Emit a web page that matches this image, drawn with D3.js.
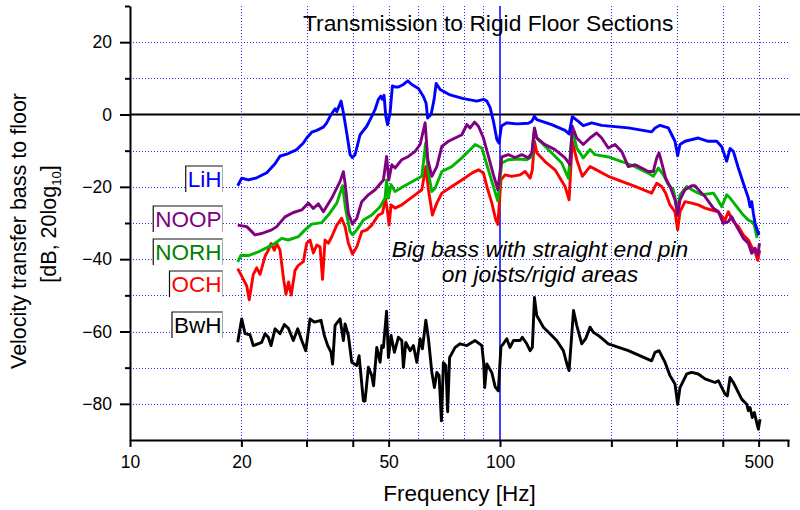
<!DOCTYPE html>
<html>
<head>
<meta charset="utf-8">
<script src="https://cdn.jsdelivr.net/npm/d3@7"></script>
<style>
body { margin: 0; background: #fff; }
svg { font-family: "Liberation Sans", Arial, sans-serif; }
</style>
</head>
<body>
<svg id="chart" width="800" height="510"></svg>
<script>
// measured curves, frequency in Hz and level in dB
var lihFreq = [19.55,20.04,20.89,22.0,23.42,24.66,25.44,26.79,28.23,29.41,30.03,30.99,31.97,33.31,34.02,34.73,35.45,35.83,36.21,37.19,37.73,38.53,39.33,39.9,40.58,41.86,43.64,45.02,45.96,46.92,47.62,48.09,48.6,49.13,49.68,50.46,51.19,52.05,53.13,54.82,56.34,57.76,60.19,62.08,63.14,63.73,65.13,66.36,67.2,68.89,73.31,79.65,86.57,90.21,92.14,94.05,96.0,98.06,99.38,100.9,104.3,111.0,119.3,121.9,123.9,125.7,137.9,149.9,153.7,156.8,162.8,167.9,177.0,188.3,222.2,257.0,262.4,270.7,285.0,291.1,297.1,302.1,306.5,316.2,343.5,365.6,385.2,397.4,409.9,418.5,427.2,440.7,454.6,469.0,473.9,478.9,483.8,488.9,494.1,501.2];
var lihDb = [-19.7,-17.6,-18.1,-17.5,-16.1,-13.6,-11.5,-10.8,-9.7,-7.9,-6.5,-4.9,-4.4,-3.5,-2.3,-0.5,0.9,1.6,0.8,3.7,0.5,-5.1,-11.1,-11.9,-11.1,-5.6,-3.25,-0.5,1.4,4.2,5.1,4.2,5.3,-0.5,-2.8,0.5,7.9,7.6,7.6,8.3,9.3,8.3,7.2,5.0,3.1,-1.0,0,4.2,8.6,6.9,5.4,4.4,3.7,4.2,3.7,1.9,-1.9,-6.9,-7.9,-3.2,-2.3,-2.6,-2.4,-1.9,-0.5,-1.4,-2.8,-4.4,-5.4,-0.6,-1.9,-3.1,-2.3,-3.0,-3.7,-4.8,-3.75,-3.0,-3.7,-5.6,-7.4,-11.4,-8.3,-7.4,-6.5,-7.4,-7.4,-8.9,-12.9,-9.4,-10.2,-14.8,-19.0,-23.1,-25.5,-24.1,-27.3,-30.1,-31.5,-33.3];

var noopFreq = [19.55,20.68,21.77,22.7,24.15,24.92,26.24,27.63,29.12,30.34,31.3,32.29,33.31,35.1,36.96,37.73,38.13,38.92,39.9,41.01,42.3,44.08,45.96,48.4,49.37,50.05,51.0,52.05,54.27,56.55,58.96,60.82,62.75,63.81,65.42,67.49,69.62,72.55,75.63,78.86,81.34,83.04,85.32,87.44,90.21,93.07,96.0,98.67,101.1,105.3,109.8,114.5,119.3,121.9,123.9,125.7,132.3,140.8,149.9,154.6,156.8,161.2,167.9,175.1,182.5,188.3,196.2,204.6,213.2,222.2,231.7,241.5,251.6,259.6,265.2,269.0,273.6,280.4,288.0,297.1,302.1,306.5,316.2,329.7,336.5,347.2,358.2,377.2,389.1,401.4,414.0,422.9,436.3,454.6,469.0,478.9,488.9,497.2,502.8];
var noopDb = [-30.6,-31.0,-33.3,-32.9,-31.9,-31.0,-28.3,-27.1,-26.4,-24.5,-26.0,-24.7,-26.9,-23.1,-18.5,-15.8,-19.0,-27.3,-30.3,-28.7,-24.1,-22.2,-20.8,-18.1,-11.6,-18.1,-13.9,-14.8,-12.5,-11.6,-10.2,-8.3,-2.3,-12.5,-17.1,-14.4,-8.8,-7.4,-6.5,-5.6,-2.8,-3.7,-2.1,-3.25,-6.5,-11.6,-16.7,-20.8,-11.7,-11.1,-11.9,-11.1,-12.0,-10.6,-3.7,-6.5,-8.3,-9.7,-12.0,-13.9,-3.25,-6.5,-8.3,-6.5,-5.1,-6.5,-9.25,-8.3,-10.2,-14.4,-13.9,-14.8,-15.75,-15.75,-12.0,-10.6,-13.4,-17.6,-19.9,-23.6,-27.8,-23.6,-20.8,-19.7,-19.7,-21.3,-22.7,-25.9,-26.9,-30.1,-29.6,-28.25,-31.0,-34.25,-35.6,-38.4,-37.0,-38.9,-35.6];

var norhFreq = [19.55,19.95,20.89,22.22,23.65,24.66,25.71,26.79,28.51,29.72,30.99,32.98,34.36,36.21,37.54,38.3,39.33,39.95,41.01,42.73,45.02,47.41,48.91,49.37,49.93,50.77,52.05,54.82,58.96,61.47,62.95,64.06,65.42,66.78,69.62,74.09,78.86,83.92,85.66,89.31,92.14,95.05,98.6,101.1,105.3,112.1,118.1,121.9,123.9,125.7,135.1,146.8,153.0,156.8,161.2,167.9,175.1,180.6,196.2,213.2,231.7,251.6,259.6,267.9,276.3,285.0,294.0,302.1,306.5,319.6,336.5,350.9,377.2,385.2,397.4,409.9,418.5,436.3,454.6,469.0,478.9,486.9,494.1,501.2];
var norhDb = [-40.75,-38.9,-39.0,-38.0,-36.6,-35.6,-34.25,-34.7,-33.8,-31.9,-30.3,-29.9,-27.8,-24.5,-19.7,-26.4,-32.4,-33.3,-31.9,-29.2,-27.8,-25.5,-23.1,-18.1,-23.1,-19.4,-21.3,-19.9,-18.1,-17.1,-7.9,-16.2,-21.3,-20.4,-15.75,-14.4,-12.0,-9.25,-8.3,-9.25,-13.9,-18.5,-23.9,-13.4,-12.5,-12.3,-12.5,-11.6,-4.2,-6.5,-9.7,-13.4,-17.6,-4.2,-9.25,-12.0,-9.7,-11.1,-11.75,-13.0,-14.4,-16.2,-17.1,-14.8,-16.7,-19.4,-20.8,-26.4,-22.2,-19.9,-21.3,-22.2,-21.75,-23.1,-25.5,-22.2,-23.1,-25.5,-27.8,-29.2,-29.6,-30.6,-33.8,-32.4];

var ochFreq = [19.55,20.04,20.68,21.0,21.54,22.0,22.46,23.17,23.65,24.05,24.55,24.92,25.44,25.71,26.03,26.4,26.82,27.27,27.93,28.51,29.41,30.03,30.66,31.3,31.97,32.63,33.14,33.66,34.36,35.1,36.21,37.31,38.13,38.92,39.95,41.01,42.3,43.64,45.02,46.92,48.09,49.06,49.73,50.14,50.77,52.05,54.27,56.55,58.96,61.47,63.03,64.06,65.66,67.49,69.62,74.09,78.86,83.92,87.44,90.21,92.14,95.05,97.46,98.67,100.6,103.2,107.5,113.3,116.9,120.6,122.3,123.9,125.7,132.3,140.8,149.9,153.7,156.8,161.2,166.9,175.1,180.6,196.2,213.2,231.7,257.0,265.2,273.6,280.4,288.0,297.1,302.1,306.5,316.2,329.7,343.5,358.2,373.4,389.1,405.6,414.0,427.2,440.7,454.6,469.0,478.9,488.9,497.2,503.5];
var ochDb = [-42.6,-44.7,-47.4,-51.25,-44.2,-42.4,-44.2,-39.2,-37.5,-35.7,-37.5,-35.7,-37.5,-41.4,-45.8,-49.7,-46.3,-49.9,-43.1,-41.7,-40.7,-35.6,-34.7,-38.3,-36.1,-36.6,-45.6,-34.7,-35.6,-33.8,-30.6,-28.7,-31.0,-35.6,-38.6,-36.6,-32.4,-31.9,-30.6,-27.8,-27.3,-23.3,-27.3,-30.6,-25.0,-25.9,-25.0,-23.6,-22.2,-20.8,-14.4,-20.8,-27.8,-24.5,-21.75,-19.9,-18.1,-16.2,-15.3,-16.2,-19.9,-24.5,-29.2,-30.4,-18.1,-16.7,-17.1,-16.7,-15.75,-17.6,-15.3,-7.4,-10.6,-13.0,-15.3,-19.9,-23.6,-7.4,-12.5,-17.1,-14.4,-15.1,-17.1,-18.5,-19.9,-21.75,-19.0,-19.9,-21.75,-25.0,-26.9,-31.9,-26.9,-24.1,-24.5,-25.0,-25.9,-26.4,-26.9,-29.2,-26.9,-29.6,-31.0,-33.3,-34.7,-36.6,-38.0,-40.3,-37.5];

var bwhFreq = [19.55,20.04,20.46,21.1,21.54,22.7,23.17,23.65,24.05,24.66,25.44,26.13,26.79,27.63,28.4,29.12,29.85,30.66,31.49,32.83,33.51,34.23,34.95,35.28,35.83,36.96,37.73,38.13,38.92,39.75,41.01,41.6,42.73,43.18,44.08,45.02,45.53,46.45,47.41,47.91,48.4,49.37,49.93,50.77,51.82,53.13,54.27,54.82,55.64,57.15,58.34,59.59,60.82,61.7,63.03,64.06,65.42,66.49,67.49,68.46,69.45,70.31,71.38,72.19,73.08,75.63,78.03,81.34,85.66,89.31,90.32,90.89,92.14,95.05,97.03,98.95,100.6,102.1,104.3,106.4,108.7,113.3,114.9,118.1,120.6,122.3,123.9,125.7,131.0,136.5,142.3,148.3,152.5,153.7,158.0,161.2,166.3,170.4,175.1,178.7,184.4,196.2,222.2,257.0,262.4,269.0,279.2,288.0,297.1,302.1,306.5,319.6,329.7,343.5,358.2,381.2,389.1,405.6,411.6,418.5,427.2,450.0,464.3,469.0,473.9,480.8,486.9,494.1,499.1,504.4];
var bwhDb = [-63.0,-56.5,-60.6,-60.9,-63.9,-63.0,-60.6,-61.6,-63.9,-59.25,-60.6,-58.1,-59.1,-62.5,-59.25,-62.5,-65.3,-56.5,-57.4,-56.9,-61.1,-63.9,-65.75,-69.0,-58.3,-56.5,-62.5,-57.9,-61.1,-68.5,-69.4,-66.7,-79.2,-79.2,-69.9,-72.2,-75.0,-64.4,-68.5,-63.9,-64.4,-54.4,-67.2,-61.1,-65.75,-61.6,-62.5,-69.9,-63.0,-65.3,-63.9,-68.5,-62.0,-64.8,-56.9,-62.0,-71.3,-75.5,-71.3,-72.2,-84.7,-68.6,-69.4,-82.2,-67.2,-64.4,-63.4,-63.9,-62.5,-63.9,-68.6,-75.5,-69.0,-71.4,-75.3,-76.4,-64.2,-63.4,-62.0,-64.4,-62.5,-62.5,-61.6,-63.4,-65.3,-64.4,-50.6,-55.6,-58.8,-60.6,-62.5,-65.3,-69.9,-70.8,-54.2,-58.3,-63.4,-62.0,-58.8,-60.2,-61.1,-63.4,-65.3,-68.1,-65.75,-65.3,-68.5,-72.2,-74.5,-80.1,-75.5,-71.75,-71.3,-71.75,-73.1,-74.1,-73.6,-77.3,-77.8,-72.7,-74.1,-78.7,-80.1,-81.9,-81.0,-83.8,-82.4,-85.2,-87.0,-84.25];

var seriesNames = ["LiH", "NOOP", "NORH", "OCH", "BwH"];
var xLabelValues = [10, 20, 50, 100, 500];
var xGridValues = [20, 30, 40, 50, 60, 70, 80, 90, 200, 300, 400, 500];
var yLabelValues = [20, 0, -20, -40, -60, -80];
var yGridValues = [20, 10, -10, -20, -30, -40, -50, -60, -70, -80];

var svg = d3.select("#chart");

var x = d3.scaleLog().domain([10, 604]).range([130, 789]);
var y = d3.scaleLinear().domain([-90, 30]).range([440, 6]);

var series = [
	{name: "BwH", freq: bwhFreq, db: bwhDb, line: "#000000", text: "#000000"},
	{name: "OCH", freq: ochFreq, db: ochDb, line: "#ff0000", text: "#ff0000"},
	{name: "NORH", freq: norhFreq, db: norhDb, line: "#00b400", text: "#008000"},
	{name: "NOOP", freq: noopFreq, db: noopDb, line: "#800080", text: "#800080"},
	{name: "LiH", freq: lihFreq, db: lihDb, line: "#0000ff", text: "#0000ff"}
];

// grid
var grid = svg.append("g").attr("stroke", "#2a2aff").attr("stroke-width", 1).attr("stroke-dasharray", "1,2");
grid.selectAll("line.v").data(xGridValues).enter().append("line")
	.attr("x1", function(d) { return Math.round(x(d)) + 0.5; })
	.attr("x2", function(d) { return Math.round(x(d)) + 0.5; })
	.attr("y1", y(30)).attr("y2", y(-90));
grid.selectAll("line.h").data(yGridValues).enter().append("line")
	.attr("x1", x(10)).attr("x2", x(604))
	.attr("y1", function(d) { return Math.round(y(d)) + 0.5; })
	.attr("y2", function(d) { return Math.round(y(d)) + 0.5; });

// reference lines at 0 dB and 100 Hz
svg.append("line").attr("x1", x(10)).attr("x2", 800)
	.attr("y1", y(0)).attr("y2", y(0)).attr("stroke", "#000").attr("stroke-width", 2);
svg.append("line").attr("x1", x(100)).attr("x2", x(100))
	.attr("y1", y(30)).attr("y2", y(-90)).attr("stroke", "#0000ff").attr("stroke-width", 1.5);

var line = d3.line()
	.x(function(d) { return x(d[0]); })
	.y(function(d) { return y(d[1]); });

series.forEach(function(s) {
	svg.append("path")
		.datum(d3.zip(s.freq, s.db))
		.attr("fill", "none")
		.attr("stroke", s.line)
		.attr("stroke-width", 2.9)
		.attr("stroke-linejoin", "round")
		.attr("d", line);
});

// axes
svg.append("g").attr("transform", "translate(" + x(10) + ",0)")
	.call(d3.axisLeft(y).tickValues(yLabelValues).tickSize(10).tickSizeOuter(0).tickPadding(8));
svg.append("g").attr("transform", "translate(" + x(10) + ",0)")
	.call(d3.axisLeft(y).tickValues([30, 10, -10, -30, -50, -70]).tickSize(5).tickSizeOuter(0).tickFormat(""))
	.select(".domain").remove();

svg.append("g").attr("transform", "translate(0," + y(-90) + ")")
	.call(d3.axisBottom(x).tickValues(xLabelValues).tickFormat(d3.format("d")).tickSize(7).tickSizeOuter(0).tickPadding(9));
svg.append("g").attr("transform", "translate(0," + y(-90) + ")")
	.call(d3.axisBottom(x).tickValues([30, 40, 200, 300, 400, 600]).tickSize(7).tickSizeOuter(0).tickFormat(""))
	.select(".domain").remove();

svg.selectAll(".domain").attr("stroke-width", 2);
svg.selectAll(".tick line").attr("stroke-width", 2);
svg.selectAll(".tick text").attr("font-size", "17.5px").attr("fill", "#000")
	.attr("font-family", "'Liberation Sans', Arial, sans-serif");

// titles
svg.append("text").attr("x", 303).attr("y", 31)
	.attr("font-size", "22.8px").text("Transmission to Rigid Floor Sections");

svg.append("text").attr("x", 459.5).attr("y", 501).attr("text-anchor", "middle")
	.attr("font-size", "22.5px").text("Frequency [Hz]");

svg.append("text").attr("transform", "translate(26,231) rotate(-90)")
	.attr("text-anchor", "middle").attr("font-size", "21.5px")
	.text("Velocity transfer bass to floor");
var yt2 = svg.append("text").attr("transform", "translate(56,224) rotate(-90)")
	.attr("text-anchor", "middle").attr("font-size", "21.5px");
yt2.append("tspan").text("[dB, 20log");
yt2.append("tspan").attr("font-size", "13px").attr("dy", 5).text("10");
yt2.append("tspan").attr("dy", -5).text("]");

// annotation
var note = svg.append("text").attr("text-anchor", "middle")
	.attr("font-size", "22.8px").attr("font-style", "italic");
note.append("tspan").attr("x", 540).attr("y", 257).text("Big bass with straight end pin");
note.append("tspan").attr("x", 540).attr("y", 282).text("on joists/rigid areas");

// legend labels
var legendBaselines = {LiH: 187, NOOP: 227, NORH: 260, OCH: 292, BwH: 333};
series.forEach(function(s) {
	var g = svg.append("g");
	var t = g.append("text").attr("x", 221.5).attr("y", legendBaselines[s.name])
		.attr("text-anchor", "end").attr("font-size", "22.5px").attr("fill", s.text).text(s.name);
	var b = t.node().getBBox();
	var l = b.x - 2.5, r = b.x + b.width + 1.5, tp = b.y - 1.5, bt = b.y + b.height;
	g.insert("rect", "text").attr("x", l).attr("y", tp).attr("width", r - l).attr("height", bt - tp).attr("fill", "#fff");
	g.append("path").attr("d", "M" + (l + 0.5) + "," + bt + "V" + (tp + 0.5) + "H" + r)
		.attr("fill", "none").attr("stroke", "#111").attr("stroke-width", 1.2);
	g.append("line").attr("x1", r - 0.5).attr("x2", r - 0.5).attr("y1", tp).attr("y2", bt)
		.attr("stroke", "#aaa").attr("stroke-width", 1);
});
</script>
</body>
</html>
